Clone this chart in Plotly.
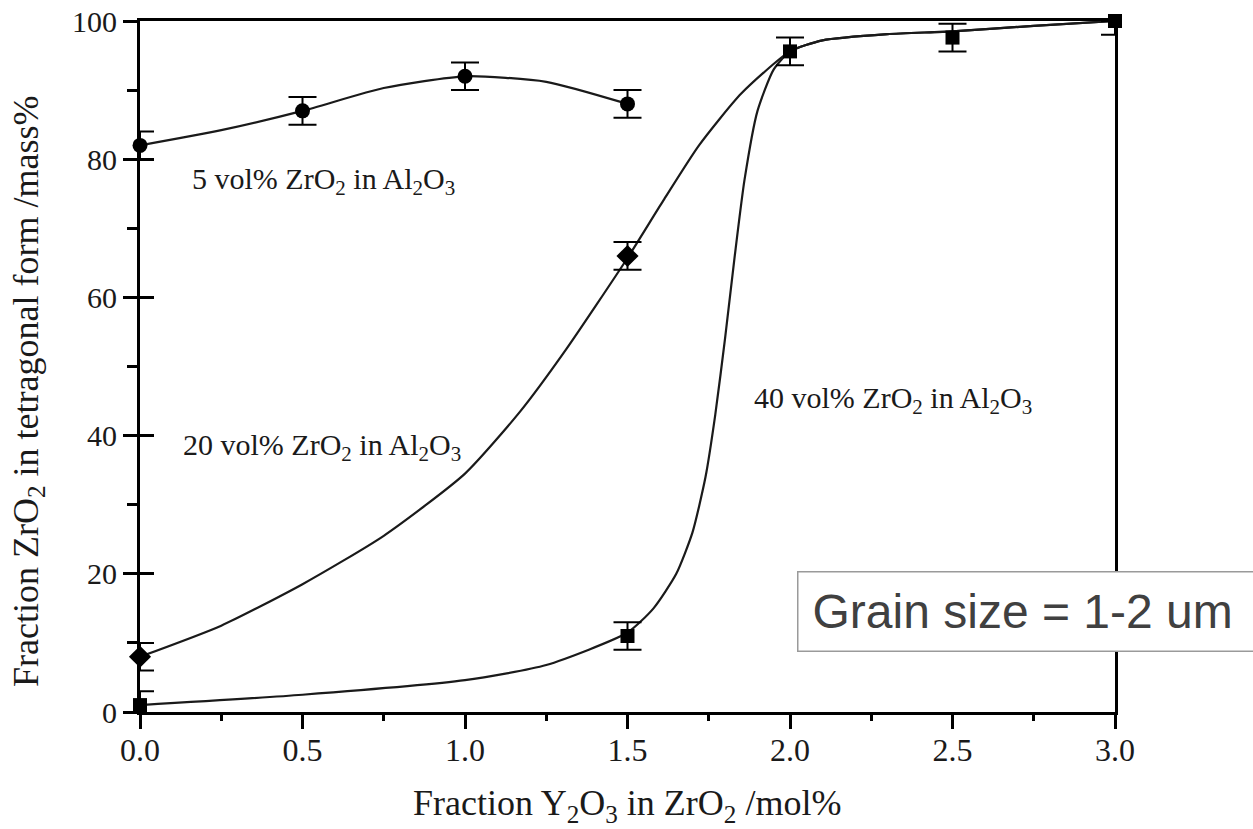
import plotly.graph_objects as go

# ---- data ----
x5 = [0.0, 0.5, 1.0, 1.5]
y5 = [82, 87, 92, 88]
e5 = [2, 2, 2, 2]

x20 = [0.0, 1.5]
y20 = [8, 66]
e20 = [2, 2]

x40 = [0.0, 1.5, 2.0, 2.5, 3.0]
y40 = [1, 11, 95.6, 97.6, 100]
e40_plus = [2, 2, 2, 2, 0]
e40_minus = [2, 2, 2, 2, 2]

# guide curves
fit5_x = [0.0, 0.25, 0.5, 0.75, 1.0, 1.25, 1.5]
fit5_y = [82, 84.2, 87, 90.3, 92, 91.2, 88]

fit20_x = [0.0, 0.25, 0.5, 0.75, 1.0, 1.17, 1.31, 1.5, 1.61, 1.72, 1.85, 2.0, 2.1, 2.3, 2.5, 2.75, 3.0]
fit20_y = [8, 12.5, 18.5, 25.5, 34.5, 43.5, 52.4, 65.7, 74, 82, 89.5, 95.6, 97.2, 98.1, 98.5, 99.3, 100]

fit40_x = [0.0, 0.5, 1.0, 1.25, 1.5, 1.58, 1.65, 1.7, 1.74, 1.77, 1.8, 1.83, 1.86, 1.9, 1.95, 2.0, 2.1, 2.3, 2.5, 2.75, 3.0]
fit40_y = [1, 2.5, 4.6, 6.8, 11.5, 15, 20, 26, 34, 43, 54, 66, 77, 87, 93, 95.6, 97.2, 98.1, 98.5, 99.3, 100]

labels_text = ["5 vol% ZrO<sub>2</sub> in Al<sub>2</sub>O<sub>3</sub>",
               "20 vol% ZrO<sub>2</sub> in Al<sub>2</sub>O<sub>3</sub>",
               "40 vol% ZrO<sub>2</sub> in Al<sub>2</sub>O<sub>3</sub>"]
labels_x = [0.565, 0.56, 2.317]
labels_y = [76.9, 38.4, 45.2]

x_ticks = [0.0, 0.5, 1.0, 1.5, 2.0, 2.5, 3.0]
x_ticktext = ["0.0", "0.5", "1.0", "1.5", "2.0", "2.5", "3.0"]
y_ticks = [0, 20, 40, 60, 80, 100]

x_title = "Fraction Y<sub>2</sub>O<sub>3</sub> in ZrO<sub>2</sub> /mol%"
y_title = "Fraction ZrO<sub>2</sub> in tetragonal form /mass%"
box_text = "Grain size = 1-2 um"

SERIF = "Liberation Serif, Times New Roman, serif"
INK = "#1a1a1a"

fig = go.Figure()

for fx, fy in [(fit5_x, fit5_y), (fit20_x, fit20_y), (fit40_x, fit40_y)]:
    fig.add_trace(go.Scatter(x=fx, y=fy, mode="lines",
                             line=dict(color=INK, width=2.2, shape="spline", smoothing=0.6),
                             hoverinfo="skip", showlegend=False, cliponaxis=False))

fig.add_trace(go.Scatter(x=x5, y=y5, mode="markers",
                         marker=dict(symbol="circle", size=15, color="black"),
                         error_y=dict(type="data", array=e5, color="black", thickness=2, width=14),
                         showlegend=False, cliponaxis=False))
fig.add_trace(go.Scatter(x=x20, y=y20, mode="markers",
                         marker=dict(symbol="diamond", size=17, color="black"),
                         error_y=dict(type="data", array=e20, color="black", thickness=2, width=14),
                         showlegend=False, cliponaxis=False))
fig.add_trace(go.Scatter(x=x40, y=y40, mode="markers",
                         marker=dict(symbol="square", size=14, color="black"),
                         error_y=dict(type="data", symmetric=False, array=e40_plus,
                                      arrayminus=e40_minus, color="black", thickness=2, width=14),
                         showlegend=False, cliponaxis=False))
# helper trace for inside-tick duplicate y axis
fig.add_trace(go.Scatter(x=[None], y=[None], yaxis="y2", showlegend=False, hoverinfo="skip"))

for t, lx, ly in zip(labels_text, labels_x, labels_y):
    fig.add_annotation(x=lx, y=ly, text=t, showarrow=False,
                       font=dict(family=SERIF, size=30, color=INK))

# axis titles
fig.add_annotation(xref="paper", yref="paper", x=0.4995, y=-0.136, xanchor="center", yanchor="middle",
                   text=x_title, showarrow=False, font=dict(family=SERIF, size=36, color=INK))
fig.add_annotation(xref="paper", yref="paper", x=-0.1149, y=0.4645, xanchor="center", yanchor="middle",
                   text=y_title, textangle=-90, showarrow=False,
                   font=dict(family=SERIF, size=36, color=INK))

fig.add_annotation(xref="paper", yref="paper", x=0.674, y=0.145, xanchor="left", yanchor="middle",
                   text=box_text, showarrow=False, align="left",
                   width=440, height=50, borderpad=14,
                   bordercolor="#9a9a9a", borderwidth=1.5, bgcolor="white",
                   font=dict(family="Liberation Sans, Arial, sans-serif", size=48, color="#404040"))

fig.update_layout(
    width=1253, height=829,
    margin=dict(l=140, r=138, t=21, b=117, autoexpand=False),
    paper_bgcolor="white", plot_bgcolor="white",
    xaxis=dict(range=[0, 3], tickvals=x_ticks, ticktext=x_ticktext, automargin=False,
               showgrid=False, zeroline=False,
               showline=True, linecolor="black", linewidth=3, mirror=True,
               ticks="outside", ticklen=14, tickwidth=3, tickcolor="black",
               minor=dict(dtick=0.25, ticks="outside", ticklen=6, tickwidth=3, tickcolor="black"),
               tickfont=dict(family=SERIF, size=32, color=INK), ticklabelstandoff=-6),
    yaxis=dict(range=[0, 100], tickvals=y_ticks, automargin=False,
               showgrid=False, zeroline=False,
               showline=True, linecolor="black", linewidth=3, mirror=True,
               ticks="outside", ticklen=14, tickwidth=3, tickcolor="black",
               minor=dict(dtick=10, ticks="outside", ticklen=10, tickwidth=3, tickcolor="black"),
               tickfont=dict(family=SERIF, size=30, color=INK)),
    yaxis2=dict(range=[0, 100], overlaying="y", anchor="x", side="left", automargin=False,
                tickvals=y_ticks, showticklabels=False, showgrid=False, zeroline=False,
                showline=False, ticks="inside", ticklen=14, tickwidth=3, tickcolor="black"),
)

fig.write_html("out.html", config={"displayModeBar": False},
               post_script="document.body.style.margin='0px';document.body.style.overflow='hidden';")
